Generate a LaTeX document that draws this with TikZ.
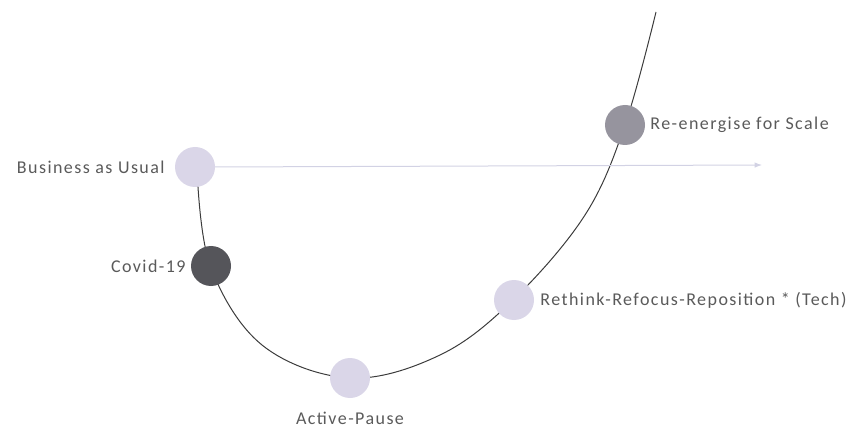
\documentclass[tikz,border=0pt]{standalone}
\usepackage{fontspec}
\setmainfont{Carlito}
\newfontfamily\phasefont[LetterSpace=8]{Carlito}
\usepackage{tikz}
\usetikzlibrary{arrows.meta,positioning}
\definecolor{PhaseLilac}{RGB}{218,214,232}
\definecolor{PhaseDark}{RGB}{85,85,90}
\definecolor{PhaseGray}{RGB}{150,148,158}
\definecolor{CurveGray}{RGB}{60,60,60}
\definecolor{LabelGray}{RGB}{90,90,90}
\definecolor{BaseLine}{RGB}{210,210,228}

\tikzset{
  phase/.style={circle,minimum size=40pt,inner sep=0pt},
  phaselabel/.style={text=LabelGray,font=\phasefont\fontsize{18}{20}\selectfont,inner sep=0pt}
}

\begin{document}
\begin{tikzpicture}[x=1pt,y=-1pt,>=Latex]
      \useasboundingbox (0,0) rectangle (856,438);
      % recovery curve
      \draw[CurveGray,line width=1pt] plot[smooth,tension=0.6] coordinates
        {(197,168) (210,265) (262,345) (350,378) (440,355) (513,300)
         (585,215) (625,125) (656,12)};
      % baseline
      \node[phase,fill=PhaseLilac] (bau) at (195,167) {};
      \coordinate (bauend) at (762,165);
      \draw[->,BaseLine,line width=1pt] (bau.east) -- (bauend);
      \node[phase,fill=PhaseDark] (covid) at (211,266) {};
      \node[phase,fill=PhaseLilac] (pause) at (350,378) {};
      \node[phase,fill=PhaseLilac] (rethink) at (514,300) {};
      \node[phase,fill=PhaseGray] (scale) at (625,125) {};
      % labels
      \node[phaselabel,left=10pt of bau] {Business as Usual};
      \node[phaselabel,left=5pt of covid] {Covid-19};
      \node[phaselabel,below=14pt of pause] {Active-Pause};
      \node[phaselabel,right=6pt of rethink] {Rethink-Refocus-Reposition * (Tech)};
      \node[phaselabel,right=5pt of scale] {Re-energise for Scale};
    \end{tikzpicture}
\end{document}
